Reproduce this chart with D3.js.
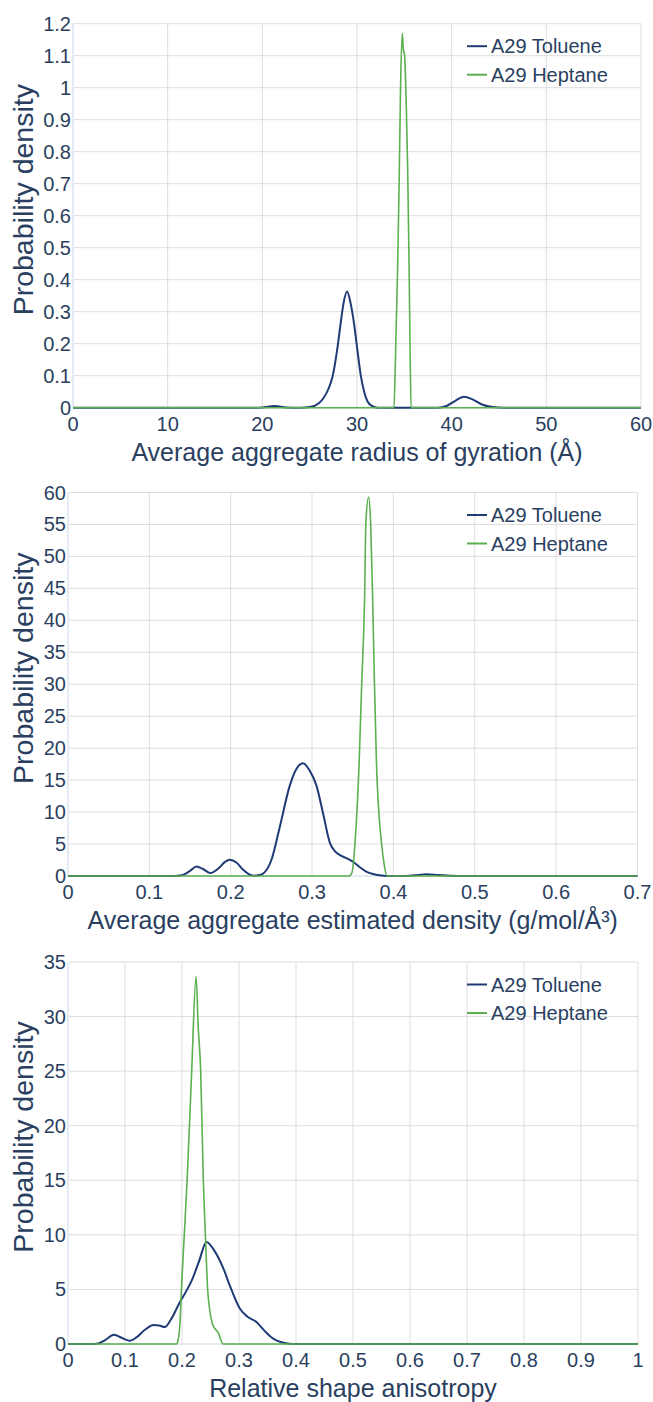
<!DOCTYPE html>
<meta charset="utf-8">
<style>
    body {
        margin: 0;
        background: #fff;
    }

    svg text {
        font-family: "Liberation Sans", Arial, sans-serif;
        fill: #2a3f5f;
    }

    .grid line {
        stroke: #dddddd;
        stroke-width: 1px;
    }

    .tick-label {
        font-size: 20px;
    }

    .axis-title {
        font-size: 25px;
    }

    .y-title {
        font-size: 28.5px;
    }

    .legend text {
        font-size: 20px;
    }
</style>

<body>
    <script src="https://cdn.jsdelivr.net/npm/d3@7"></script>

    <script>

        var width = 653,
            height = 1402;

        var seriesNames = ["A29 Toluene", "A29 Heptane"];
        var seriesColors = ["#1f3b75", "#5bb04f"];

        // panel 1 : radius of gyration
        var rgTolX = [0, 19, 20, 21.3, 22.5, 24, 25, 26, 26.5, 27, 27.4, 27.9, 28.3, 28.6, 28.95, 29.3, 29.7, 30.0, 30.4, 30.8, 31.1, 31.6, 32.2, 38.5, 39.5, 40.3, 41.3, 42.2, 43.2, 44.3, 45.5, 60];
        var rgTolY = [0, 0, 0.001, 0.005, 0.001, 0, 0.002, 0.015, 0.032, 0.06, 0.095, 0.18, 0.27, 0.33, 0.363, 0.33, 0.26, 0.19, 0.10, 0.045, 0.02, 0.005, 0, 0, 0.006, 0.02, 0.034, 0.026, 0.01, 0.002, 0, 0];
        var rgHepX = [0, 33.9, 34.1, 34.3, 34.45, 34.6, 34.78, 34.9, 35.03, 35.2, 35.35, 35.5, 35.62, 35.72, 60];
        var rgHepY = [0, 0, 0.2, 0.45, 0.7, 1.0, 1.17, 1.12, 1.10, 0.95, 0.75, 0.45, 0.15, 0, 0];

        // panel 2 : estimated density
        var dnTolX = [0, 0.13, 0.14, 0.15, 0.158, 0.166, 0.175, 0.185, 0.193, 0.199, 0.207, 0.215, 0.222, 0.228, 0.235, 0.24, 0.25, 0.26, 0.2725, 0.28, 0.289, 0.297, 0.3055, 0.314, 0.322, 0.328, 0.334, 0.342, 0.35, 0.358, 0.3665, 0.375, 0.383, 0.392, 0.415, 0.43, 0.44, 0.455, 0.47, 0.48, 0.7];
        var dnTolY = [0, 0, 0.1, 0.8, 1.47, 1.1, 0.45, 1.2, 2.2, 2.55, 2.1, 1.0, 0.3, 0.05, 0.15, 0.4, 2.5, 7.5, 14.1, 16.6, 17.65, 16.5, 14.1, 9.5, 5.15, 3.9, 3.3, 2.8, 2.25, 1.45, 0.7, 0.3, 0.1, 0, 0, 0.15, 0.28, 0.15, 0.02, 0, 0];
        var dnHepX = [0, 0.345, 0.349, 0.3527, 0.358, 0.361, 0.3646, 0.3662, 0.3695, 0.3719, 0.3744, 0.3765, 0.379, 0.3855, 0.389, 0.392, 0.7];
        var dnHepY = [0, 0, 0.5, 5, 18.3, 30, 43.7, 55.5, 59.3, 55.5, 43.7, 31, 18.3, 5, 1.5, 0, 0];

        // panel 3 : relative shape anisotropy
        var anTolX = [0, 0.04, 0.053, 0.065, 0.0807, 0.095, 0.1088, 0.12, 0.135, 0.15, 0.16, 0.17, 0.18, 0.196, 0.207, 0.217, 0.23, 0.243, 0.255, 0.272, 0.285, 0.302, 0.315, 0.331, 0.345, 0.36, 0.372, 0.385, 0.4, 1];
        var anTolY = [0, 0, 0.05, 0.35, 0.85, 0.55, 0.3, 0.6, 1.3, 1.75, 1.7, 1.55, 2.2, 3.8, 4.8, 5.8, 7.6, 9.35, 8.7, 7.0, 5.2, 3.2, 2.5, 2.0, 1.2, 0.5, 0.2, 0.05, 0, 0];
        var anHepX = [0, 0.19, 0.193, 0.197, 0.199, 0.204, 0.209, 0.217, 0.2246, 0.2285, 0.2328, 0.2374, 0.241, 0.245, 0.249, 0.253, 0.258, 0.264, 0.268, 0.272, 1];
        var anHepY = [0, 0, 0.3, 2.5, 5, 10, 15, 25, 33.7, 29, 25, 15, 10, 5, 3, 1.9, 1.4, 1.0, 0.4, 0, 0];

        var panels = [
            { xTitle: "Average aggregate radius of gyration (Å)", xMax: 60, xStep: 10, yMax: 1.2, yStep: 0.1,
              left: 73, right: 641, top: 23.7, bottom: 407.7,
              series: [[rgTolX, rgTolY], [rgHepX, rgHepY]] },
            { xTitle: "Average aggregate estimated density (g/mol/Å³)", xMax: 0.7, xStep: 0.1, yMax: 60, yStep: 5,
              left: 68, right: 637.5, top: 492.5, bottom: 876,
              series: [[dnTolX, dnTolY], [dnHepX, dnHepY]] },
            { xTitle: "Relative shape anisotropy", xMax: 1, xStep: 0.1, yMax: 35, yStep: 5,
              left: 68, right: 638, top: 962, bottom: 1344,
              series: [[anTolX, anTolY], [anHepX, anHepY]] }
        ];

        var svg = d3.select("body").append("svg")
            .attr("width", width)
            .attr("height", height);

        var fmt = function (v) { return String(+v.toFixed(3)); };

        panels.forEach(function (p) {
            var x = d3.scaleLinear().domain([0, p.xMax]).range([p.left, p.right]);
            var y = d3.scaleLinear().domain([0, p.yMax]).range([p.bottom, p.top]);

            var xTicks = d3.range(0, p.xMax + p.xStep / 2, p.xStep);
            var yTicks = d3.range(0, p.yMax + p.yStep / 2, p.yStep);

            var g = svg.append("g");

            // grid
            var grid = g.append("g").attr("class", "grid");
            grid.selectAll(".gx").data(xTicks.slice(1)).enter().append("line")
                .attr("x1", function (d) { return x(d); }).attr("x2", function (d) { return x(d); })
                .attr("y1", p.top).attr("y2", p.bottom);
            grid.selectAll(".gy").data(yTicks.slice(1)).enter().append("line")
                .attr("x1", p.left).attr("x2", p.right)
                .attr("y1", function (d) { return y(d); }).attr("y2", function (d) { return y(d); });

            // zero lines
            g.append("line")
                .attr("x1", x(0)).attr("x2", x(0)).attr("y1", p.top).attr("y2", p.bottom)
                .style("stroke", "#e4ebf5").style("stroke-width", 2);
            g.append("line")
                .attr("x1", p.left).attr("x2", p.right).attr("y1", y(0)).attr("y2", y(0))
                .style("stroke", "#e4ebf5").style("stroke-width", 2);

            // tick labels
            g.selectAll(".xl").data(xTicks).enter().append("text")
                .attr("class", "tick-label")
                .attr("x", function (d) { return x(d); })
                .attr("y", p.bottom + 23)
                .attr("text-anchor", "middle")
                .text(fmt);
            g.selectAll(".yl").data(yTicks).enter().append("text")
                .attr("class", "tick-label")
                .attr("x", p.left - 2)
                .attr("y", function (d) { return y(d); })
                .attr("dy", "0.35em")
                .attr("text-anchor", "end")
                .text(fmt);

            // titles
            g.append("text").attr("class", "axis-title")
                .attr("x", (p.left + p.right) / 2)
                .attr("y", p.bottom + 53)
                .attr("text-anchor", "middle")
                .text(p.xTitle);
            g.append("text").attr("class", "y-title")
                .attr("transform", "translate(33," + ((p.top + p.bottom) / 2 - 16) + ") rotate(-90)")
                .attr("text-anchor", "middle")
                .text("Probability density");

            // lines
            var line = d3.line()
                .x(function (d) { return x(d[0]); })
                .y(function (d) { return y(d[1]); })
                .curve(d3.curveMonotoneX);

            p.series.forEach(function (s, i) {
                var pts = d3.zip(s[0], s[1]);
                g.append("path")
                    .attr("d", line(pts))
                    .style("fill", "none")
                    .style("stroke", seriesColors[i])
                    .style("stroke-width", i === 0 ? 2 : 1.6)
                    .style("stroke-linejoin", "round");
            });

            // legend
            var lg = g.append("g").attr("class", "legend")
                .attr("transform", "translate(467," + (p.top + 22.5) + ")");
            seriesNames.forEach(function (name, i) {
                lg.append("line")
                    .attr("x1", 0).attr("x2", 20)
                    .attr("y1", i * 28.5).attr("y2", i * 28.5)
                    .style("stroke", seriesColors[i])
                    .style("stroke-width", 2);
                lg.append("text")
                    .attr("x", 24).attr("y", i * 28.5)
                    .attr("dy", "0.35em")
                    .text(name);
            });
        });

    </script>

</body>

</html>
